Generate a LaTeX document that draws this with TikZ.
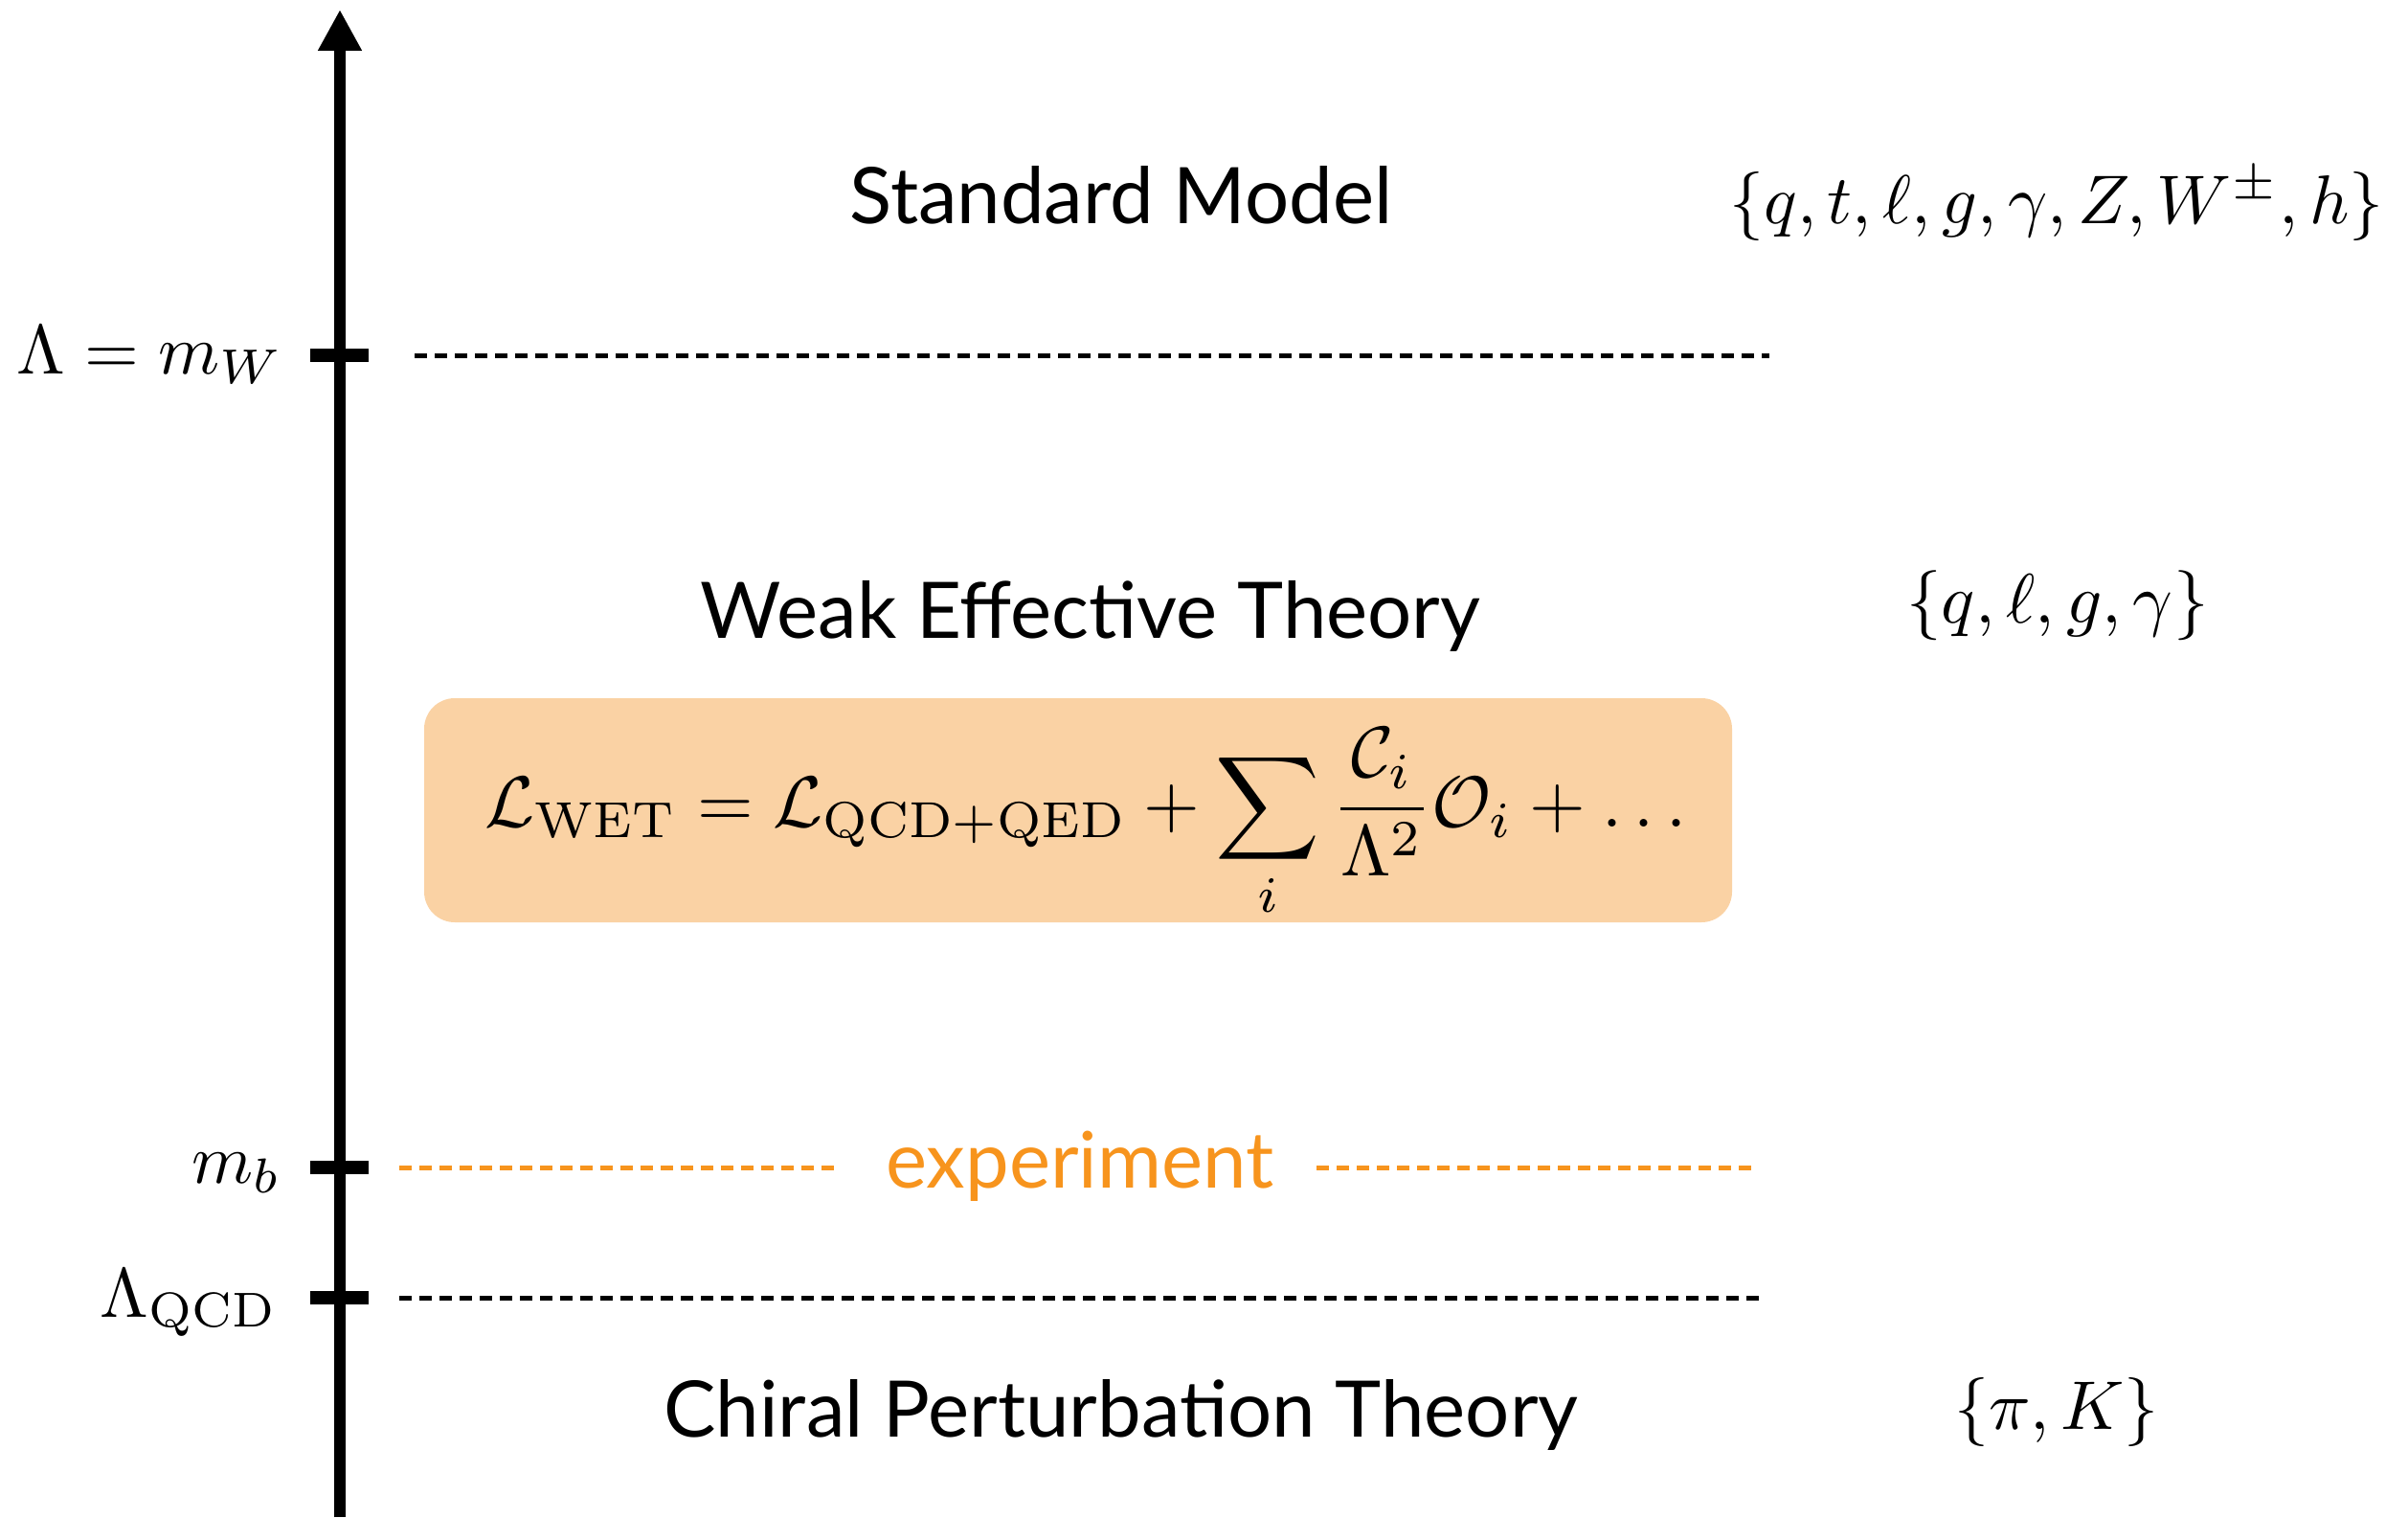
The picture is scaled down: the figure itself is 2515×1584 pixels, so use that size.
\documentclass[tikz,border=0pt]{standalone}
\usepackage{fontspec}
\setsansfont{Lato}
\usetikzlibrary{arrows.meta}
\definecolor{expor}{RGB}{247,148,29}
\definecolor{boxfill}{RGB}{250,210,164}
\begin{document}
\begin{tikzpicture}[x=1pt,y=-1pt,
  sanslabel/.style={font=\sffamily\fontsize{81.5}{98}\selectfont, inner sep=0pt, anchor=base},
  mathlabel/.style={inner sep=0pt},
  tickmark/.style={line width=14pt},
  dashline/.style={line width=5pt, dash pattern=on 13pt off 8pt},
  axisline/.style={line width=12pt, -{Triangle[length=43pt,width=43pt]}},
  boxstyle/.style={rectangle, rounded corners=32pt, fill=boxfill, draw=none, inner sep=0pt}]
\useasboundingbox (0,0) rectangle (2515,1584);
% axis
\coordinate (axbot) at (355,1584);
\coordinate (axtop) at (355,10);
\draw[axisline] (axbot) -- (axtop);
% tick points
\coordinate (tW) at (355,371);
\coordinate (tb) at (355,1219);
\coordinate (tQ) at (355,1355);
\draw[tickmark] ([xshift=-31pt]tW) -- ([xshift=30pt]tW);
\draw[tickmark] ([xshift=-31pt]tb) -- ([xshift=30pt]tb);
\draw[tickmark] ([xshift=-31pt]tQ) -- ([xshift=30pt]tQ);
% tick labels
\node[mathlabel, anchor=base east] (lW) at (296,390) {\scalebox{7.3}{$\Lambda = m_W$}};
\node[mathlabel, anchor=base east] (lb) at (294,1235) {\scalebox{7.3}{$m_b$}};
\node[mathlabel, anchor=base east] (lQ) at (290,1375) {\scalebox{7.3}{$\Lambda_{\mathrm{QCD}}$}};
% dashed lines
\coordinate (dW1) at (433,371);
\coordinate (dW2) at (1848,371);
\draw[dashline] (dW1) -- (dW2);
\coordinate (db1) at (417,1219);
\coordinate (db2) at (874,1219);
\coordinate (db3) at (1375,1219);
\coordinate (db4) at (1832,1219);
\draw[dashline, expor] (db1) -- (db2);
\draw[dashline, expor] (db3) -- (db4);
\coordinate (dQ1) at (417,1355);
\coordinate (dQ2) at (1837,1355);
\draw[dashline] (dQ1) -- (dQ2);
% box
\node[boxstyle, minimum width=1366pt, minimum height=234pt] (wetbox) at (1126,846) {};
\node[mathlabel] (wetlag) at (1134,860) {\scalebox{7.55}{$\displaystyle \mathcal{L}_{\mathrm{WET}} = \mathcal{L}_{\mathrm{QCD+QED}} + \sum_i \frac{\mathcal{C}_i}{\Lambda^2}\mathcal{O}_i + \dots$}};
% theory names
\node[sanslabel] (sm) at (1171,233) {Standard Model};
\node[sanslabel] (wet) at (1139,666) {Weak Effective Theory};
\node[sanslabel] (chpt) at (1171,1500) {Chiral Perturbation Theory};
\node[sanslabel, text=expor] (exper) at (1128,1240) {experiment};
% field content
\node[mathlabel, anchor=base] (fsm) at (2148,233) {\scalebox{7.2}{$\{q,t,\ell,g,\gamma,Z,W^\pm,h\}$}};
\node[mathlabel, anchor=base] (fwet) at (2149,650) {\scalebox{7.3}{$\{q,\ell,g,\gamma\}$}};
\node[mathlabel, anchor=base] (fchpt) at (2148,1492) {\scalebox{7.2}{$\{\pi,K\}$}};
\end{tikzpicture}
\end{document}
